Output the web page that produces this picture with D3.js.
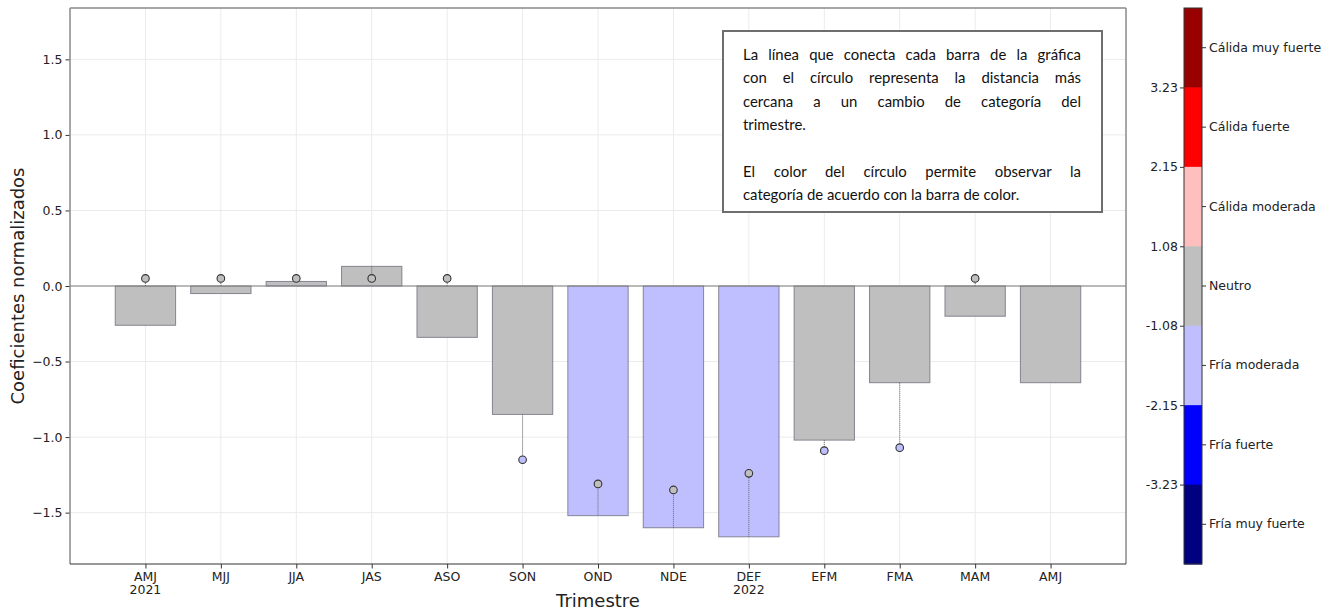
<!DOCTYPE html>
<html>
<head>
<meta charset="utf-8">
<script src="https://cdnjs.cloudflare.com/ajax/libs/d3/7.8.5/d3.min.js"></script>
<style>
  body { margin: 0; background: #fff; }
  svg text { font-family: "DejaVu Sans", sans-serif; }
</style>
</head>
<body>
<div id="my_dataviz"></div>
<script>
// trimestres y valores
var trimestres = ["AMJ", "MJJ", "JJA", "JAS", "ASO", "SON", "OND", "NDE", "DEF", "EFM", "FMA", "MAM", "AMJ"];
var anios = ["2021", "", "", "", "", "", "", "", "2022", "", "", "", ""];
var coeficientes = [-0.26, -0.05, 0.03, 0.13, -0.34, -0.85, -1.52, -1.60, -1.66, -1.02, -0.64, -0.20, -0.64];
var catBarra = ["Neutro", "Neutro", "Neutro", "Neutro", "Neutro", "Neutro", "Fría moderada", "Fría moderada", "Fría moderada", "Neutro", "Neutro", "Neutro", "Neutro"];
var circulos = [0.05, 0.05, 0.05, 0.05, 0.05, -1.15, -1.31, -1.35, -1.24, -1.09, -1.07, 0.05, null];
var catCirculo = ["Neutro", "Neutro", "Neutro", "Neutro", "Neutro", "Fría moderada", "Neutro", "Neutro", "Neutro", "Fría moderada", "Fría moderada", "Neutro", null];
var yTicks = [-1.5, -1.0, -0.5, 0.0, 0.5, 1.0, 1.5];

// barra de color
var categorias = ["Cálida muy fuerte", "Cálida fuerte", "Cálida moderada", "Neutro", "Fría moderada", "Fría fuerte", "Fría muy fuerte"];
var coloresCat = ["#990000", "#ff0000", "#ffbfbf", "#bfbfbf", "#bfbfff", "#0000ff", "#000080"];
var limites = ["3.23", "2.15", "1.08", "-1.08", "-2.15", "-3.23"];

var nota = [
  ["La línea que conecta cada barra de la gráfica", true],
  ["con el círculo representa la distancia más", true],
  ["cercana a un cambio de categoría del", true],
  ["trimestre.", false],
  ["", false],
  ["El color del círculo permite observar la", true],
  ["categoría de acuerdo con la barra de color.", false]
];

var W = 1338, H = 613;
var margin = {top: 8, right: 212, bottom: 49, left: 70};
var svg, x, y;

var color = d3.scaleOrdinal().domain(categorias).range(coloresCat);

svg = d3.select("#my_dataviz").append("svg")
  .attr("width", W).attr("height", H);

x = d3.scaleLinear().domain([-1, 13]).range([margin.left, W - margin.right]);
y = d3.scaleLinear().domain([-1.84, 1.84]).range([H - margin.bottom, margin.top]);

DrawGrid();
DrawBars();
DrawFrame();
DrawColorbar();
DrawNote();

function DrawGrid(){
  var g = svg.append("g");
  g.selectAll(".vg").data(d3.range(trimestres.length)).join("line")
    .attr("x1", d => x(d)).attr("x2", d => x(d))
    .attr("y1", y.range()[1]).attr("y2", y.range()[0])
    .attr("stroke", "#ebebeb").attr("stroke-width", 1);
  g.selectAll(".hg").data(yTicks).join("line")
    .attr("x1", x.range()[0]).attr("x2", x.range()[1])
    .attr("y1", d => y(d)).attr("y2", d => y(d))
    .attr("stroke", "#ebebeb").attr("stroke-width", 1);
}

function DrawBars(){
  var bw = x(0.4) - x(-0.4);
  var idx = d3.range(coeficientes.length);

  svg.selectAll(".bar").data(idx).join("rect")
    .attr("x", i => x(i) - bw / 2)
    .attr("y", i => y(Math.max(0, coeficientes[i])))
    .attr("width", bw)
    .attr("height", i => Math.abs(y(coeficientes[i]) - y(0)))
    .attr("fill", i => color(catBarra[i]))
    .attr("stroke", "#6f6f7f").attr("stroke-opacity", 0.8)
    .attr("stroke-width", 1);

  // linea del cero
  svg.append("line")
    .attr("x1", x.range()[0]).attr("x2", x.range()[1])
    .attr("y1", y(0)).attr("y2", y(0))
    .attr("stroke", "#7f7f7f").attr("stroke-width", 1);

  var conCirculo = idx.filter(i => circulos[i] != null);

  // linea punteada entre la barra y el circulo
  svg.selectAll(".dist").data(conCirculo).join("line")
    .attr("x1", i => x(i)).attr("x2", i => x(i))
    .attr("y1", function(i){
      var ini = (circulos[i] * coeficientes[i] > 0) ? coeficientes[i] : 0;
      return y(ini);
    })
    .attr("y2", i => y(circulos[i]))
    .attr("stroke", "#666").attr("stroke-width", 1)
    .attr("stroke-dasharray", "1,1");

  svg.selectAll(".cir").data(conCirculo).join("circle")
    .attr("cx", i => x(i)).attr("cy", i => y(circulos[i]))
    .attr("r", 3.8)
    .attr("fill", i => color(catCirculo[i]))
    .attr("stroke", "#333").attr("stroke-width", 1.1);
}

function DrawFrame(){
  var x0 = x.range()[0], x1 = x.range()[1], y0 = y.range()[1], y1 = y.range()[0];

  var ya = svg.append("g")
    .attr("transform", "translate(" + x0 + ",0)")
    .call(d3.axisLeft(y).tickValues(yTicks).tickFormat(d3.format(".1f")).tickSize(4.5).tickPadding(3));
  ya.select(".domain").remove();
  ya.selectAll("line").attr("stroke", "#333");
  ya.selectAll("text").attr("font-size", "12.5px").attr("fill", "#222")
    .style("font-family", "DejaVu Sans");

  var xa = svg.append("g")
    .attr("transform", "translate(0," + y1 + ")")
    .call(d3.axisBottom(x).tickValues(d3.range(trimestres.length)).tickFormat("").tickSize(4.5));
  xa.select(".domain").remove();
  xa.selectAll("line").attr("stroke", "#333");

  var lab = svg.append("g").selectAll("text").data(d3.range(trimestres.length)).join("text")
    .attr("x", i => x(i)).attr("y", y1 + 16.5)
    .attr("text-anchor", "middle").attr("font-size", "12.5px").attr("fill", "#222");
  lab.append("tspan").attr("x", i => x(i)).text(i => trimestres[i]);
  lab.filter(i => anios[i] != "").append("tspan").attr("x", i => x(i)).attr("dy", 13.5).text(i => anios[i]);

  // marco
  svg.append("line").attr("x1", x0).attr("x2", x1).attr("y1", y0).attr("y2", y0).attr("stroke", "#8a8a8a").attr("stroke-width", 1.5);
  svg.append("line").attr("x1", x1).attr("x2", x1).attr("y1", y0).attr("y2", y1).attr("stroke", "#8a8a8a").attr("stroke-width", 1.5);
  svg.append("line").attr("x1", x0).attr("x2", x0).attr("y1", y0).attr("y2", y1).attr("stroke", "#8a8a8a").attr("stroke-width", 1.5);
  svg.append("line").attr("x1", x0).attr("x2", x1).attr("y1", y1).attr("y2", y1).attr("stroke", "#333").attr("stroke-width", 1.2);

  svg.append("text")
    .attr("x", (x0 + x1) / 2).attr("y", 607)
    .attr("text-anchor", "middle").attr("font-size", "18px").attr("fill", "#222")
    .text("Trimestre");

  svg.append("text")
    .attr("transform", "translate(24," + ((y0 + y1) / 2) + ") rotate(-90)")
    .attr("text-anchor", "middle").attr("font-size", "18px").attr("fill", "#222")
    .text("Coeficientes normalizados");
}

function DrawColorbar(){
  var cx0 = 1184, cw = 18;
  var top = y.range()[1], bot = y.range()[0];
  var band = d3.scaleBand().domain(categorias).range([top, bot]);
  var limScale = d3.scalePoint().domain(limites).range([top + band.step(), bot - band.step()]);

  svg.append("g").selectAll("rect").data(categorias).join("rect")
    .attr("x", cx0).attr("y", d => band(d))
    .attr("width", cw).attr("height", band.bandwidth() + 0.5)
    .attr("fill", d => color(d));

  svg.append("rect")
    .attr("x", cx0).attr("y", top).attr("width", cw).attr("height", bot - top)
    .attr("fill", "none").attr("stroke", "#333").attr("stroke-width", 1);

  var ra = svg.append("g")
    .attr("transform", "translate(" + (cx0 + cw) + ",0)")
    .call(d3.axisRight(band).tickSize(4).tickPadding(3));
  ra.select(".domain").remove();
  ra.selectAll("line").attr("stroke", "#333");
  ra.selectAll("text").attr("font-size", "12.5px").attr("fill", "#222").style("font-family", "DejaVu Sans");

  var la = svg.append("g")
    .attr("transform", "translate(" + cx0 + ",0)")
    .call(d3.axisLeft(limScale).tickSize(4).tickPadding(2));
  la.select(".domain").remove();
  la.selectAll("line").attr("stroke", "#333");
  la.selectAll("text").attr("font-size", "12.5px").attr("fill", "#222").style("font-family", "DejaVu Sans");
}

function DrawNote(){
  var bx = 723, by = 31, bw = 379, bh = 181;
  svg.append("rect")
    .attr("x", bx).attr("y", by).attr("width", bw).attr("height", bh)
    .attr("fill", "#fff").attr("stroke", "#6e6e6e").attr("stroke-width", 2);

  var left = 743, right = 1081, ancho = right - left;
  var fs = 15.5;
  var t = svg.append("g").style("font-family", "Lato, 'Open Sans', sans-serif");

  // ajustar tamaño para que la primera linea llene el ancho
  var prueba = t.append("text").attr("font-size", fs + "px").text(nota[0][0]);
  var w0 = prueba.node().getComputedTextLength();
  prueba.remove();
  fs = fs * ancho / w0;

  nota.forEach(function(n, i){
    if(n[0] == "") return;
    var tx = t.append("text")
      .attr("x", left).attr("y", 60 + i * 23.4)
      .attr("font-size", fs + "px").attr("fill", "#111")
      .style("font-family", "Lato, 'Open Sans', sans-serif")
      .text(n[0]);
    if(n[1]){
      var w = tx.node().getComputedTextLength();
      var huecos = n[0].split(" ").length - 1;
      if(huecos > 0) tx.style("word-spacing", ((ancho - w) / huecos) + "px");
    }
  });
}
</script>
</body>
</html>
